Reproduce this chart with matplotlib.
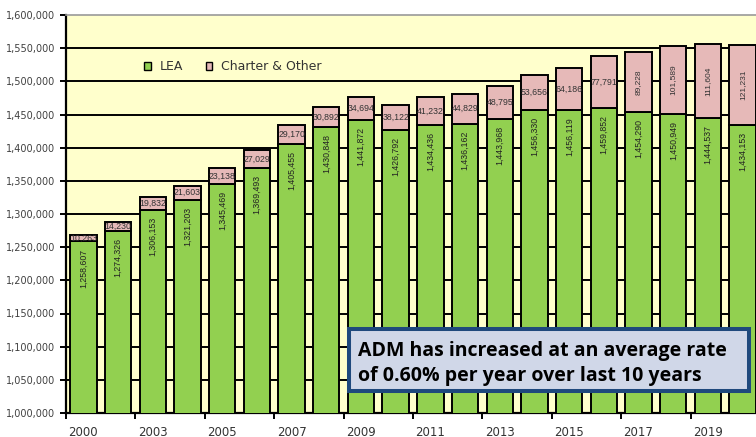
import matplotlib
matplotlib.use("Agg")
import matplotlib.pyplot as plt
from matplotlib.patches import Patch, Rectangle
import numpy as np

# ---- data ----
tick_years = ["2000", "2003", "2005", "2007", "2009", "2011", "2013", "2015", "2017", "2019"]
lea = [1258607, 1274326, 1306153, 1321203, 1345469, 1369493, 1405455, 1430848, 1441872, 1426792,
       1434436, 1436162, 1443968, 1456330, 1456119, 1459852, 1454290, 1450949, 1444537, 1434153]
charter = [10263, 14230, 19832, 21603, 23138, 27029, 29170, 30892, 34694, 38122,
           41232, 44829, 48795, 53656, 64186, 77791, 89228, 101589, 111604, 121231]
series_names = ["LEA", "Charter & Other"]
note_lines = ["ADM has increased at an average rate", "of 0.60% per year over last 10 years"]

GREEN = "#92D050"
PINK = "#E6B9B8"
BG = "#FFFFCC"

W, H = 756, 437
fig = plt.figure(figsize=(W / 100, H / 100), dpi=100)
fig.patch.set_facecolor("white")

ax_left, ax_right, ax_top, ax_bot = 66, 760, 15, 413
ax = fig.add_axes([ax_left / W, (H - ax_bot) / H, (ax_right - ax_left) / W, (ax_bot - ax_top) / H])
ax.set_facecolor(BG)

n = len(lea)
x = np.arange(n)
bw = 0.76
ax.bar(x, lea, width=bw, color=GREEN, edgecolor="black", linewidth=1.4, zorder=3, label=series_names[0])
ax.bar(x, charter, bottom=lea, width=bw, color=PINK, edgecolor="black", linewidth=1.4, zorder=3,
       label=series_names[1])

ax.set_xlim(-0.5, n - 0.5)
ax.set_ylim(1000000, 1600000)

# gridlines
yt = np.arange(1000000, 1600001, 50000)
ax.set_yticks(yt)
ax.set_yticklabels([f"{v:,}" for v in yt])
for v in yt[1:-1]:
    ax.axhline(v, color="black", lw=1.4, zorder=1)

# spines
ax.spines["right"].set_visible(False)
ax.spines["top"].set_color("#999999")
ax.spines["top"].set_linewidth(1.2)
ax.spines["left"].set_linewidth(1.6)
ax.spines["bottom"].set_linewidth(1.6)

ax.tick_params(axis="y", direction="out", length=4, width=1.4, pad=4, labelsize=7, labelcolor="#404040")

# x ticks: boundary ticks every two bars, labels under every second bar
ax.set_xticks(np.arange(-0.5, n - 0.5, 2))
ax.set_xticklabels([])
ax.tick_params(axis="x", which="major", direction="out", length=4, width=1.4)
ax.set_xticks(x[::2], minor=True)
ax.set_xticklabels(tick_years, minor=True)
ax.tick_params(axis="x", which="minor", length=0, pad=9, labelsize=8.5, labelcolor="#333333")

narrow = ["Liberation Sans Narrow", "Liberation Sans", "DejaVu Sans"]
# data labels
for i in range(n):
    ax.annotate(f"{lea[i]:,}", xy=(x[i], lea[i]), xytext=(0, -5), textcoords="offset points",
                rotation=90, ha="center", va="top", fontsize=6.3, family=narrow, color="#222222", zorder=5)
    mid = lea[i] + charter[i] / 2
    if charter[i] > 85000:
        ax.text(x[i], mid, f"{charter[i]:,}", rotation=90, ha="center", va="center",
                fontsize=6, family=narrow, color="#333333", zorder=5)
    else:
        ax.text(x[i], mid, f"{charter[i]:,}", ha="center", va="center",
                fontsize=6.3, family=["Liberation Sans", "DejaVu Sans"], color="#333333", zorder=5)

# legend
handles = [Patch(facecolor=GREEN, edgecolor="black", linewidth=1.0),
           Patch(facecolor=PINK, edgecolor="black", linewidth=1.0)]
ax.legend(handles, series_names, loc="center left",
          bbox_to_anchor=((144 - ax_left) / (ax_right - ax_left), (ax_bot - 67) / (ax_bot - ax_top)),
          ncol=2, frameon=False, fontsize=9, handlelength=0.55, handleheight=0.55,
          handletextpad=0.7, columnspacing=1.8, borderpad=0, borderaxespad=0,
          labelcolor="#333333")

# note box
bx0, bx1, by0, by1 = 349, 749, 329, 391
fig.patches.append(Rectangle((bx0 / W, (H - by1) / H), (bx1 - bx0) / W, (by1 - by0) / H,
                             transform=fig.transFigure, facecolor="#D0D7E8", edgecolor="#1F497D",
                             linewidth=2.9, zorder=10))
fig.text(358 / W, (H - 356) / H, note_lines[0], fontsize=14, fontweight="bold",
         family=["Open Sans", "DejaVu Sans"], ha="left", va="baseline", color="black", zorder=11)
fig.text(358 / W, (H - 381) / H, note_lines[1], fontsize=14, fontweight="bold",
         family=["Open Sans", "DejaVu Sans"], ha="left", va="baseline", color="black", zorder=11)

fig.savefig("out.png", dpi=100)
